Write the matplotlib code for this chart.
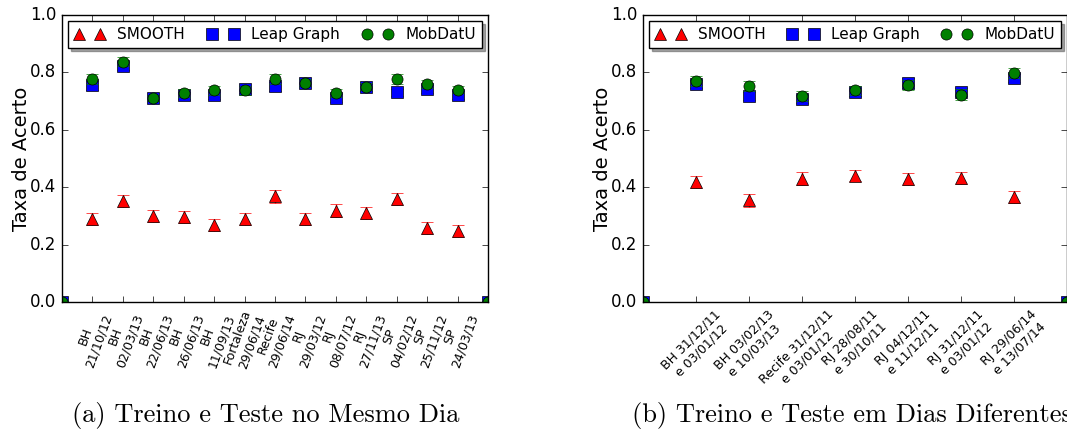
import numpy as np
import matplotlib
matplotlib.use('Agg')
from matplotlib import pyplot as plt

plt.style.use('classic')

# (a) Treino e Teste no Mesmo Dia
labels_a = ['BH\n21/10/12', 'BH\n02/03/13', 'BH\n22/06/13', 'BH\n26/06/13', 'BH\n11/09/13',
            'Fortaleza\n29/06/14', 'Recife\n29/06/14', 'RJ\n29/03/12', 'RJ\n08/07/12',
            'RJ\n27/11/13', 'SP\n04/02/12', 'SP\n25/11/12', 'SP\n24/03/13']
smooth_a = [0.289, 0.351, 0.300, 0.296, 0.269, 0.289, 0.368, 0.289, 0.318, 0.311, 0.360, 0.258, 0.248]
smooth_a_err = [0.022, 0.021, 0.022, 0.022, 0.021, 0.022, 0.023, 0.022, 0.022, 0.021, 0.021, 0.022, 0.021]
leap_a = [0.755, 0.822, 0.711, 0.720, 0.720, 0.741, 0.751, 0.764, 0.711, 0.748, 0.731, 0.741, 0.720]
leap_a_err = [0.015, 0.015, 0.012, 0.013, 0.013, 0.012, 0.015, 0.012, 0.014, 0.012, 0.012, 0.014, 0.014]
mob_a = [0.777, 0.838, 0.711, 0.727, 0.737, 0.737, 0.777, 0.764, 0.728, 0.750, 0.777, 0.758, 0.740]
mob_a_err = [0.016, 0.016, 0.012, 0.014, 0.014, 0.014, 0.016, 0.012, 0.015, 0.013, 0.016, 0.014, 0.013]

# (b) Treino e Teste em Dias Diferentes
labels_b = ['BH 31/12/11\ne 03/01/12', 'BH 03/02/13\ne 10/03/13', 'Recife 31/12/11\ne 03/01/12',
            'RJ 28/08/11\ne 30/10/11', 'RJ 04/12/11\ne 11/12/11', 'RJ 31/12/11\ne 03/01/12',
            'RJ 29/06/14\ne 13/07/14']
smooth_b = [0.418, 0.354, 0.429, 0.440, 0.429, 0.432, 0.366]
smooth_b_err = [0.022, 0.022, 0.023, 0.020, 0.020, 0.022, 0.020]
leap_b = [0.760, 0.719, 0.708, 0.731, 0.763, 0.731, 0.781]
leap_b_err = [0.015, 0.014, 0.014, 0.014, 0.016, 0.014, 0.015]
mob_b = [0.769, 0.753, 0.718, 0.737, 0.756, 0.723, 0.797]
mob_b_err = [0.017, 0.017, 0.018, 0.017, 0.018, 0.018, 0.017]


def pad(v):
    # original plot has a dummy zero point at each end
    return [0] + list(v) + [0]


def panel(ax, labels, smooth, smooth_err, leap, leap_err, mob, mob_err, rot):
    n = len(labels)
    x = np.arange(n + 2)
    series = [(smooth, smooth_err, '^', 'r', 9, 'SMOOTH'),
              (leap, leap_err, 's', 'b', 8, 'Leap Graph'),
              (mob, mob_err, 'o', 'g', 8, 'MobDatU')]
    for vals, errs, mk, c, ms, lab in series:
        ax.errorbar(x, pad(vals), yerr=pad(errs), fmt='none', ecolor=c, capsize=4)
        ax.plot(x, pad(vals), mk, color=c, markersize=ms, label=lab)
    ax.set_xlim(0, n + 1)
    ax.set_ylim(0, 1.0)
    ax.set_xticks(np.arange(1, n + 1))
    ax.set_xticklabels(labels, rotation=rot, fontsize=9)
    ax.set_yticks(np.arange(0, 1.01, 0.2))
    ax.set_ylabel('Taxa de Acerto', fontsize=14, labelpad=-1)
    ax.legend(loc='upper left', ncol=3, mode='expand', bbox_to_anchor=(0, 0, 1, 1),
              numpoints=2, fontsize=11, shadow=True, borderaxespad=0.4)


fig = plt.figure(figsize=(10.67, 4.34), dpi=100, facecolor='white')
ax1 = fig.add_axes([0.0581, 0.3041, 0.3993, 0.6613])
ax2 = fig.add_axes([0.6026, 0.3041, 0.3974, 0.6613])

panel(ax1, labels_a, smooth_a, smooth_a_err, leap_a, leap_a_err, mob_a, mob_a_err, 70)
panel(ax2, labels_b, smooth_b, smooth_b_err, leap_b, leap_b_err, mob_b, mob_b_err, 45)

fig.text(0.249, 0.027, '(a) Treino e Teste no Mesmo Dia', ha='center', family='cmr10', fontsize=19)
fig.text(0.592, 0.027, '(b) Treino e Teste em Dias Diferentes', ha='left', family='cmr10', fontsize=19)

plt.savefig('out.png', dpi=100, facecolor='white')
